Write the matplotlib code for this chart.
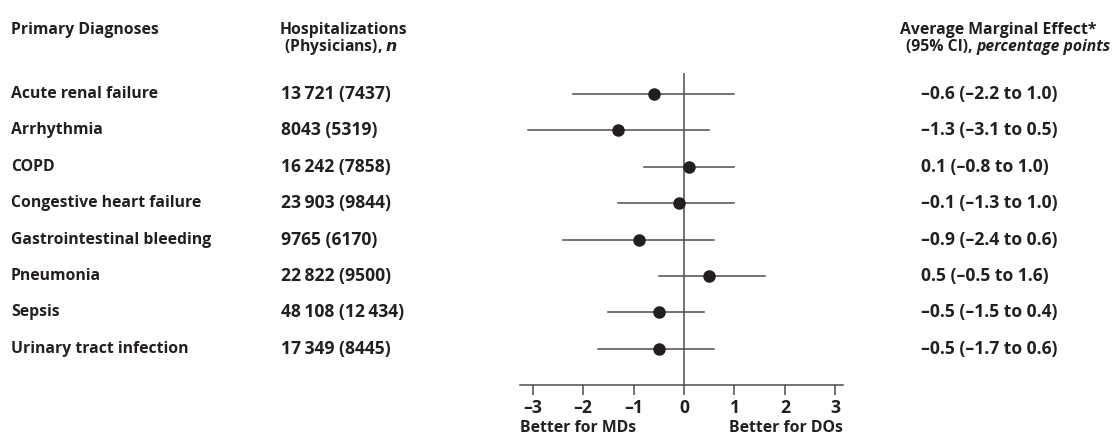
import matplotlib
matplotlib.use("Agg")
import matplotlib.pyplot as plt
import matplotlib.transforms as mtransforms

diagnoses = ["Acute renal failure", "Arrhythmia", "COPD", "Congestive heart failure",
             "Gastrointestinal bleeding", "Pneumonia", "Sepsis", "Urinary tract infection"]
hospitalizations = ["13\u2009721 (7437)", "8043 (5319)", "16\u2009242 (7858)", "23\u2009903 (9844)",
                    "9765 (6170)", "22\u2009822 (9500)", "48\u2009108 (12\u2009434)", "17\u2009349 (8445)"]
effect = [-0.6, -1.3, 0.1, -0.1, -0.9, 0.5, -0.5, -0.5]
ci_low = [-2.2, -3.1, -0.8, -1.3, -2.4, -0.5, -1.5, -1.7]
ci_high = [1.0, 0.5, 1.0, 1.0, 0.6, 1.6, 0.4, 0.6]
ticks = [-3, -2, -1, 0, 1, 2, 3]

plt.rcParams['font.family'] = ['Open Sans', 'DejaVu Sans']
plt.rcParams['font.weight'] = 'bold'
txt = "#231f20"
line_c = "#4d4d4f"

W, H = 1113, 441
fig = plt.figure(figsize=[W / 100, H / 100], dpi=100)

# forest axes, placed in pixel terms
ax = fig.add_axes([520 / W, 1 - 385 / H, 323 / W, 312 / H])
ax.set_xlim(-3.25, 3.15)
ax.set_ylim(8.0, -0.58)

def fmt(v):
    return ("%.1f" % v).replace("-", "\u2013")

for i in range(len(diagnoses)):
    ax.plot([ci_low[i], ci_high[i]], [i, i], color=line_c, lw=1.1, zorder=2)
    ax.plot(effect[i], i, "o", color=txt, ms=8, zorder=3)

ax.axvline(0, color=line_c, lw=1.1, zorder=1)

fs = 11.3
fs_num = 12.6
for s in ["top", "right", "left"]:
    ax.spines[s].set_visible(False)
ax.spines["bottom"].set_color(line_c)
ax.spines["bottom"].set_linewidth(1.1)
ax.set_yticks([])
ax.set_xticks(ticks)
ax.set_xticklabels([fmt(t).replace(".0", "") for t in ticks], fontsize=fs_num, color=txt, fontweight="bold")
ax.tick_params(axis="x", length=7, width=1.1, color=line_c, pad=3)

# text columns: x in figure fraction, y in data rows
tr = mtransforms.blended_transform_factory(fig.transFigure, ax.transData)
for i in range(len(diagnoses)):
    ax.text(11 / W, i, diagnoses[i], transform=tr, ha="left", va="center", fontsize=fs, color=txt, clip_on=False)
    ax.text(281 / W, i, hospitalizations[i], transform=tr, ha="left", va="center", fontsize=fs_num, color=txt, clip_on=False)
    ax.text(921 / W, i, "%s (%s to %s)" % (fmt(effect[i]), fmt(ci_low[i]), fmt(ci_high[i])),
            transform=tr, ha="left", va="center", fontsize=fs_num, color=txt, clip_on=False)

# headers
fig.text(11 / W, 1 - 30 / H, "Primary Diagnoses", ha="left", va="center", fontsize=fs, color=txt)
fig.text(280 / W, 1 - 30 / H, "Hospitalizations", ha="left", va="center", fontsize=fs, color=txt)
fig.text(284 / W, 1 - 47 / H, "(Physicians), $\\it{n}$", ha="left", va="center", fontsize=fs, color=txt)
fig.text(1096 / W, 1 - 30 / H, "Average Marginal Effect*", ha="right", va="center", fontsize=fs, color=txt)
pp = fig.text(1111 / W, 1 - 47 / H, "percentage points", ha="right", va="center", fontsize=fs, color=txt, style="italic")
r = fig.canvas.get_renderer()
x0 = pp.get_window_extent(r).x0
fig.text((x0 - 4) / W, 1 - 47 / H, "(95% CI),", ha="right", va="center", fontsize=fs, color=txt)

# direction labels
fig.text(520 / W, 1 - 428 / H, "Better for MDs", ha="left", va="center", fontsize=fs, color=txt)
fig.text(843 / W, 1 - 428 / H, "Better for DOs", ha="right", va="center", fontsize=fs, color=txt)

fig.savefig("out.png", dpi=100)
